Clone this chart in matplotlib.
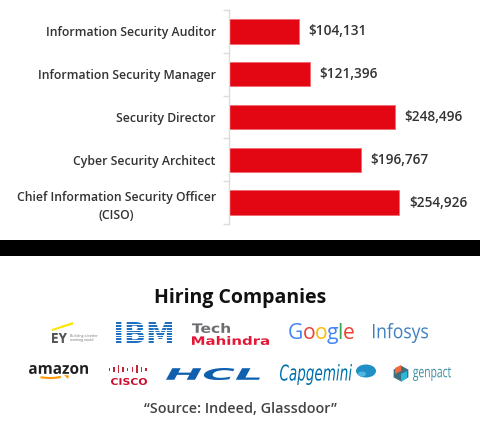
import matplotlib
matplotlib.use("Agg")
import matplotlib.pyplot as plt
from matplotlib.patches import Rectangle, Arc, PathPatch, Ellipse, RegularPolygon, Polygon
from matplotlib.textpath import TextPath
from matplotlib.font_manager import FontProperties
from matplotlib.transforms import Affine2D

# ---------------- data ----------------
roles = ["Information Security Auditor", "Information Security Manager",
         "Security Director", "Cyber Security Architect",
         "Chief Information Security Officer\n(CISO)"]
salaries = [104131, 121396, 248496, 196767, 254926]
title_text = "Hiring Companies"
source_text = "\u201cSource: Indeed, Glassdoor\u201d"

W, H = 480, 443
plt.rcParams['font.family'] = ['Open Sans', 'DejaVu Sans']

fig = plt.figure(figsize=(W / 100, H / 100), dpi=100)
fig.patch.set_facecolor('white')

def fx(x):
    return x / W

def fy(y):
    return 1 - y / H

# ---------------- bar chart ----------------
ax_l, ax_r, ax_t, ax_b = 229, 480, 10, 224
ax = fig.add_axes([fx(ax_l), fy(ax_b), (ax_r - ax_l) / W, (ax_b - ax_t) / H])
n = len(roles)
ypos = list(range(n))
ax.barh(ypos, salaries, height=0.57, color='#e30613', edgecolor='#f06a72', linewidth=0.6)
ax.set_xlim(0, 375500)
ax.set_ylim(n - 0.5, -0.5)
for s in ['top', 'right', 'bottom']:
    ax.spines[s].set_visible(False)
ax.spines['left'].set_color('#dcdcdc')
ax.spines['left'].set_linewidth(1.0)
ax.set_xticks([])
ax.set_yticks(ypos)
ax.set_yticklabels(roles, fontsize=8.8, color='#333333', fontweight='semibold',
                   linespacing=1.5)
ax.tick_params(axis='y', which='major', length=0, pad=9.5)
ax.set_yticks([i - 0.5 for i in range(n + 1)], minor=True)
ax.tick_params(axis='y', which='minor', length=4.5, color='#dcdcdc', width=1.0)
for lab in ax.get_yticklabels():
    lab.set_horizontalalignment('right')
    lab.set_multialignment('center')
for i, v in enumerate(salaries):
    ax.annotate(f"${v:,}", (v, i), xytext=(6.8, 0), textcoords='offset points',
                va='center', ha='left', fontsize=9.8, color='#333333', fontweight='semibold')

# ---------------- black band ----------------
fig.add_artist(Rectangle((0, fy(256)), 1, (256 - 240) / H, transform=fig.transFigure,
                         facecolor='black', edgecolor='none'))

# ---------------- title & source ----------------
fig.text(0.5, fy(303), title_text, ha='center', va='baseline', fontsize=14,
         fontweight='bold', color='#111111')
fig.text(0.5, fy(413), source_text, ha='center', va='baseline', fontsize=10.4,
         fontweight='semibold', color='#444444')

pix = Affine2D().scale(1 / W, 1 / H) + fig.transFigure

def path_box(s, x0, y0, x1, y1, color, family='DejaVu Sans', weight='bold', style='normal'):
    """text ink scaled into pixel box (x0, y0 top) - (x1, y1 bottom)"""
    tp = TextPath((0, 0), s, size=10, prop=FontProperties(family=family, weight=weight, style=style))
    ext = tp.get_extents()
    sx = (x1 - x0) / ext.width
    sy = (y1 - y0) / ext.height
    tr = Affine2D().translate(-ext.x0, -ext.y0).scale(sx, sy).translate(x0, H - y1)
    p = tr.transform_path(tp)
    fig.add_artist(PathPatch(p, transform=pix, facecolor=color, edgecolor='none'))

# ---------------- logos row 1 ----------------
# EY
fig.add_artist(Polygon([(fx(52), fy(329)), (fx(73), fy(322)), (fx(73), fy(324.5)), (fx(52), fy(331))],
                       closed=True, transform=fig.transFigure, facecolor='#ffe600', edgecolor='none'))
path_box("EY", 52, 333, 67, 343, '#555555')
fig.text(fx(69.5), fy(336.5), "Building a better", fontsize=2.6, color='#777777', va='center', ha='left')
fig.text(fx(69.5), fy(340), "working world", fontsize=2.6, color='#777777', va='center', ha='left')

# IBM with stripes
path_box("IBM", 116, 322, 172, 343, '#1f70c1', weight='bold')
for k in range(8):
    yy = 324.2 + k * 2.65
    fig.add_artist(Rectangle((fx(112), fy(yy + 1.0)), 66 / W, 1.0 / H, transform=fig.transFigure,
                             facecolor='white', edgecolor='none'))

# Tech Mahindra
path_box("Tech", 192, 323, 230, 333, '#6d6e71', weight='bold')
path_box("Mahindra", 192, 336, 269, 345, '#e31837', weight='bold')

# Google
g_letters = ["G", "o", "o", "g", "l", "e"]
g_colors = ['#4285f4', '#ea4335', '#fbbc05', '#4285f4', '#34a853', '#ea4335']
renderer = fig.canvas.get_renderer()
gx = 288
for ch, c in zip(g_letters, g_colors):
    t = fig.text(fx(gx), fy(339), ch, fontsize=15.2, color=c, family='Open Sans',
                 va='baseline', ha='left')
    bb = t.get_window_extent(renderer)
    gx += bb.width - 0.6

# Infosys
path_box("Infosys", 373, 323, 428, 343, '#3d7fc1', family='Open Sans', weight='normal')

# ---------------- logos row 2 ----------------
# amazon
path_box("amazon", 29, 365, 88, 374, '#221f1f', family='Open Sans', weight='bold')
fig.add_artist(Arc((fx(50), fy(371)), 40 / W, 14 / H, theta1=215, theta2=330,
                   transform=fig.transFigure, color='#ff9900', lw=1.5))
fig.add_artist(Polygon([(fx(64), fy(375)), (fx(69), fy(375.5)), (fx(68), fy(379))],
                       closed=True, transform=fig.transFigure, facecolor='#ff9900', edgecolor='none'))

# cisco
bars_h = [3, 5, 8, 5, 3, 5, 8, 5, 3]
for k, bh in enumerate(bars_h):
    bx = 108.5 + k * 4.6
    fig.add_artist(Rectangle((fx(bx), fy(373 - (8 - bh) / 2)), 1.5 / W, bh / H, transform=fig.transFigure,
                             facecolor='#c0283a', edgecolor='none'))
path_box("CISCO", 111, 378, 147, 385, '#c8102e', family='DejaVu Sans', weight='bold')

# HCL
path_box("HCL", 166, 368, 260, 380, '#0f5faf', weight='bold', style='italic')

# Capgemini
path_box("Capgemini", 280, 364, 352, 385, '#0070ad', weight='normal', style='italic')
fig.add_artist(Ellipse((fx(366), fy(371)), 20 / W, 13 / H, transform=fig.transFigure,
                       facecolor='#1f8fc5', edgecolor='none'))
fig.add_artist(Ellipse((fx(362), fy(374)), 8 / W, 5 / H, transform=fig.transFigure,
                       facecolor='#52b4e0', edgecolor='none'))

# genpact
fig.add_artist(RegularPolygon((fx(401), fy(373.5)), 6, radius=8.5 / W, transform=fig.transFigure,
                              facecolor='#3e6f80', edgecolor='none'))
fig.add_artist(Polygon([(fx(395), fy(368)), (fx(401), fy(365)), (fx(401), fy(371)), (fx(395), fy(374))],
                       closed=True, transform=fig.transFigure, facecolor='#f26b3a', edgecolor='none'))
fig.add_artist(Polygon([(fx(401), fy(374)), (fx(407), fy(371)), (fx(407), fy(378)), (fx(401), fy(382))],
                       closed=True, transform=fig.transFigure, facecolor='#28b8d8', edgecolor='none'))
path_box("genpact", 413, 367, 451, 381, '#3a8fa0', family='Open Sans', weight='normal')

fig.savefig("out.png", dpi=100, facecolor='white')
